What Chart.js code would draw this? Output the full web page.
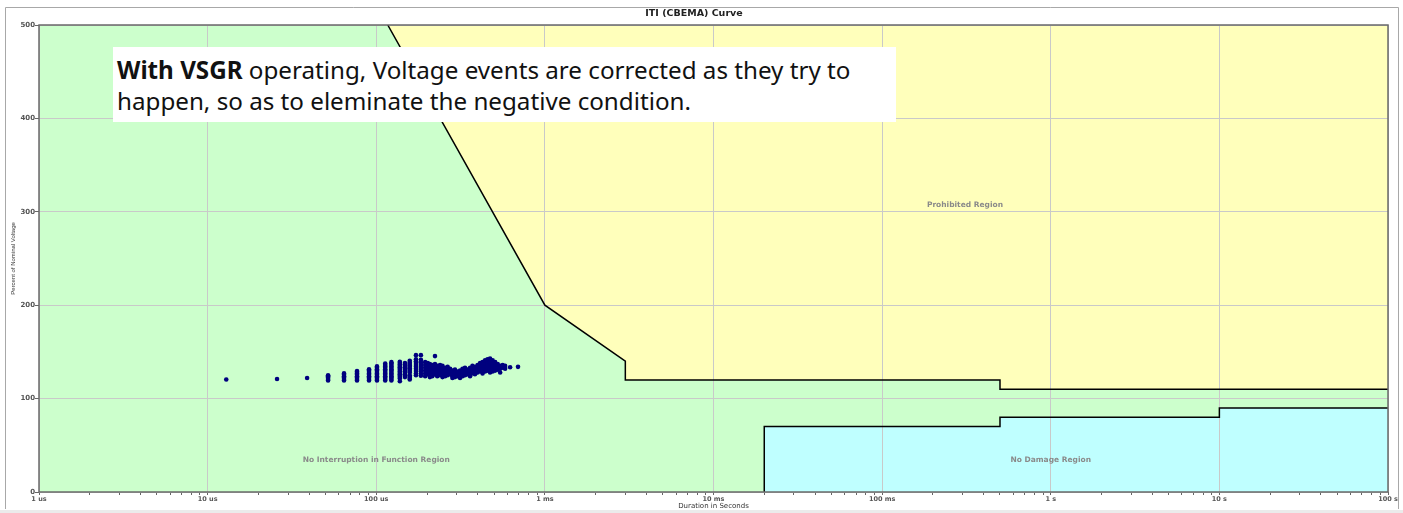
<!DOCTYPE html>
<html><head><meta charset="utf-8">
<script src="https://cdn.jsdelivr.net/npm/chart.js@4"></script>
<style>
html,body{margin:0;padding:0;background:#fff;}
#wrap{position:relative;width:1403px;height:513px;overflow:hidden;}
canvas{display:block;}
#note{position:absolute;left:113px;top:47px;width:783px;height:75px;background:#fff;font-family:"Noto Sans",sans-serif;font-size:24.2px;line-height:31px;color:#111;box-sizing:border-box;padding:7px 0 0 4px;white-space:nowrap;}
</style></head>
<body><div id="wrap"><canvas id="c" width="1403" height="513"></canvas>
<div id="note"><b>With VSGR</b> operating, Voltage events are corrected as they try to<br>happen, so as to eleminate the negative condition.</div></div>
<script>
// ---- axis ticks ----
const xTickValues = [1e-6, 1e-5, 1e-4, 1e-3, 1e-2, 1e-1, 1, 10, 100];
const xTickLabels = ['1 us', '10 us', '100 us', '1 ms', '10 ms', '100 ms', '1 s', '10 s', '100 s'];
const yTickValues = [0, 100, 200, 300, 400, 500];
const yTickLabels = ['0', '100', '200', '300', '400', '500'];

// ---- ITI (CBEMA) curve boundaries (duration s, % nominal) ----
const upperCurveDur = [1.17e-4, 1e-3, 3e-3, 3e-3, 0.5, 0.5, 100];
const upperCurvePct = [500, 200, 140, 120, 120, 110, 110];
const lowerCurveDur = [0.02, 0.02, 0.5, 0.5, 10, 10, 100];
const lowerCurvePct = [0, 70, 70, 80, 80, 90, 90];

// ---- measured events: duration (microseconds) and the % values recorded at it ----
const eventDurationUs = [12.9, 25.8, 38.9, 51.8, 64.4, 76.9, 90.6, 101, 113, 123, 138, 148, 158, 172, 184,
  195, 202, 208, 215, 223, 230, 239, 247, 256, 265, 274, 283, 293, 303, 314, 325, 336, 348, 360, 372,
  385, 399, 413, 427, 442, 457, 473, 490, 507, 525, 543, 562, 581, 622, 693];
const eventPercent = [
  [120.5], [121], [122],
  [119.5, 121, 122.5, 124, 125],
  [119.5, 121, 122.5, 124, 125.5, 127],
  [119.5, 121, 122.5, 124, 125.5, 127, 128.5, 129.5],
  [119.5, 121, 122.5, 124, 125.5, 127, 128.5, 130, 131.5],
  [119.5, 121, 122.5, 124, 125.5, 127, 128.5, 130, 131.5, 133, 134.5],
  [119.5, 121, 122.5, 124, 125.5, 127, 128.5, 130, 131.5, 133, 134.5, 136, 137.5],
  [119.5, 121, 122.5, 124, 125.5, 127, 128.5, 130, 131.5, 133, 134.5, 136, 137.5, 139],
  [118.5, 121.5, 123, 124.5, 126, 127.5, 129, 130.5, 132, 133.5, 135, 136.5, 138, 139.5],
  [123, 124.5, 126, 127.5, 129, 130.5, 132, 133.5, 135, 136.5, 138],
  [120.5, 122, 123.5, 125, 128, 129.5, 131, 132.5, 134, 135.5, 137, 138.5, 140.5],
  [125, 127, 129.5, 132, 134, 136, 138, 140, 142, 146.5],
  [124.5, 126.5, 129, 131, 133, 135, 137, 139, 141.5, 146.5],
  [124, 127, 130, 133, 136, 139],
  [126, 129, 132, 135, 138],
  [123, 125, 128, 131, 134, 137],
  [124, 127, 130, 133, 136],
  [126, 129, 131, 134, 137, 145.5],
  [124, 127, 130, 132, 135],
  [125, 128, 131, 133, 136],
  [123, 126, 129, 132, 135],
  [124, 127, 130, 133],
  [125, 128, 131, 134],
  [126, 129, 132],
  [122, 124, 127, 130],
  [123, 126, 128, 131],
  [124, 127, 129],
  [122, 125, 127, 130],
  [124, 126, 129, 132],
  [125, 127, 130, 133],
  [126, 129, 131],
  [124, 127, 130, 133],
  [127, 130, 132, 135],
  [126, 129, 132, 134],
  [128, 131, 133, 136],
  [129, 132, 135, 138],
  [127, 130, 133, 136, 139],
  [129, 132, 135, 138, 141],
  [130, 133, 136, 139, 142],
  [128, 131, 134, 137, 140, 143],
  [129, 132, 135, 138, 141],
  [130, 133, 136, 139],
  [131, 134, 137],
  [128, 132, 135],
  [133, 136],
  [132, 135],
  [133.5],
  [134]
];

// ---- region captions ----
const regionNames = ['Prohibited Region', 'No Interruption in Function Region', 'No Damage Region'];
const regionAnchorDur = [0.31, 1e-4, 1];
const regionAnchorPct = [307, 34, 34];

// build datasets from arrays
const eventPoints = [];
eventDurationUs.forEach((d, i) => eventPercent[i].forEach(p => eventPoints.push({x: d * 1e-6, y: p})));
const upperPts = upperCurveDur.map((d, i) => ({x: d, y: upperCurvePct[i]}));
const lowerPts = lowerCurveDur.map((d, i) => ({x: d, y: lowerCurvePct[i]}));

const FONT = '"DejaVu Sans", Verdana, sans-serif';

const decorPlugin = {
  id: 'decor',
  beforeDraw(chart) {
    const {ctx, chartArea: a} = chart;
    ctx.save();
    ctx.fillStyle = '#ffffff';
    ctx.fillRect(0, 0, chart.width, chart.height);
    ctx.fillStyle = '#ccffcc';
    ctx.fillRect(a.left, a.top, a.right - a.left, a.bottom - a.top);
    ctx.restore();
  },
  afterDatasetDraw(chart, args) {
    if (args.index === 3) {
      chart.scales.x.drawGrid(chart.chartArea);
      chart.scales.y.drawGrid(chart.chartArea);
    }
  },
  afterDatasetsDraw(chart) {
    const {ctx} = chart;
    ctx.save();
    ctx.font = 'bold 7.5px ' + FONT;
    ctx.fillStyle = '#8a8a8a';
    ctx.textAlign = 'center';
    ctx.textBaseline = 'middle';
    regionNames.forEach((t, i) => {
      ctx.fillText(t, chart.scales.x.getPixelForValue(regionAnchorDur[i]), chart.scales.y.getPixelForValue(regionAnchorPct[i]));
    });
    ctx.restore();
  },
  afterDraw(chart) {
    const {ctx, chartArea: a} = chart;
    ctx.save();
    ctx.strokeStyle = '#6a6a6a';
    ctx.lineWidth = 1.5;
    ctx.strokeRect(a.left, a.top, a.right - a.left, a.bottom - a.top);
    ctx.strokeStyle = '#a8a8a8';
    ctx.lineWidth = 1;
    ctx.beginPath();
    ctx.moveTo(5.5, 509);
    ctx.lineTo(5.5, 7.5);
    ctx.lineTo(1398.5, 7.5);
    ctx.lineTo(1398.5, 509);
    ctx.stroke();
    ctx.fillStyle = '#ebebeb';
    ctx.fillRect(0, 510, chart.width, 3);
    ctx.restore();
  }
};

new Chart(document.getElementById('c'), {
  type: 'scatter',
  data: {
    datasets: [
      {label: 'Events', data: eventPoints, pointRadius: 2.3, pointHoverRadius: 2.3, backgroundColor: '#00007f', borderWidth: 0, showLine: false, order: 0},
      {label: 'Upper', data: upperPts, showLine: true, borderColor: '#000', borderWidth: 1.5, pointRadius: 0, fill: false, order: 1, tension: 0},
      {label: 'Lower', data: lowerPts, showLine: true, borderColor: '#000', borderWidth: 1.5, pointRadius: 0, fill: false, order: 1, tension: 0},
      {label: 'Prohibited', data: upperPts, showLine: true, borderWidth: 0, borderColor: 'rgba(0,0,0,0)', pointRadius: 0, fill: 'end', backgroundColor: '#ffffbb', order: 2, tension: 0},
      {label: 'NoDamage', data: lowerPts, showLine: true, borderWidth: 0, borderColor: 'rgba(0,0,0,0)', pointRadius: 0, fill: 'origin', backgroundColor: '#bfffff', order: 2, tension: 0}
    ]
  },
  options: {
    responsive: false,
    animation: false,
    devicePixelRatio: 1,
    layout: {padding: {left: 0, right: 15, top: 0, bottom: 0}},
    plugins: {
      legend: {display: false},
      tooltip: {enabled: false},
      title: {display: true, text: 'ITI (CBEMA) Curve', color: '#222', font: {family: FONT, size: 9.5, weight: 'bold'}, padding: {top: 8, bottom: 5.6}}
    },
    scales: {
      x: {
        type: 'logarithmic', min: 1e-6, max: 100, position: 'bottom',
        afterBuildTicks(scale) {
          const t = [];
          xTickValues.forEach((d, i) => {
            t.push({value: d, major: true, lbl: xTickLabels[i]});
            if (i < xTickValues.length - 1) for (let k = 2; k <= 9; k++) t.push({value: d * k, major: false, lbl: ''});
          });
          scale.ticks = t;
        },
        afterFit(s) { s.height = 21; },
        grid: {
          color: c => (c.tick && c.tick.major) ? '#c9c9c9' : 'rgba(0,0,0,0)',
          lineWidth: 1, drawTicks: true, tickLength: 3, tickColor: '#666'
        },
        border: {display: false},
        ticks: {autoSkip: false, maxRotation: 0, minRotation: 0, padding: 0, color: '#555',
          font: {family: FONT, size: 6.5, weight: 'bold'},
          callback: (v, i, ticks) => ticks[i].lbl || ''},
        title: {display: true, text: 'Duration in Seconds', color: '#333', font: {family: FONT, size: 7}, padding: {top: 0, bottom: 3}}
      },
      y: {
        type: 'linear', min: 0, max: 500,
        afterBuildTicks(scale) { scale.ticks = yTickValues.map(v => ({value: v})); },
        afterFit(s) { s.width = 39; },
        grid: {color: '#c9c9c9', lineWidth: 1, drawTicks: true, tickLength: 4, tickColor: '#666'},
        border: {display: false},
        ticks: {padding: 0, color: '#555', font: {family: FONT, size: 7, weight: 'bold'},
          callback: (v, i) => yTickLabels[i]},
        title: {display: true, text: 'Percent of Nominal Voltage', color: '#333',
          font: {family: '"Liberation Sans Narrow", "Liberation Sans", sans-serif', size: 6}, padding: {top: 9.5, bottom: 0}}
      }
    }
  },
  plugins: [decorPlugin]
});
</script>
</body></html>
